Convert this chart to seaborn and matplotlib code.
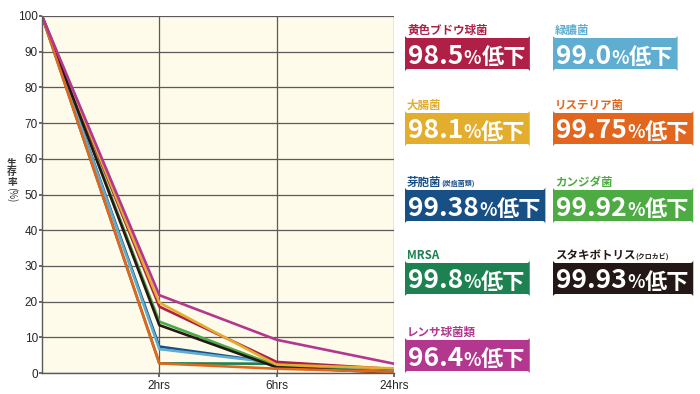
import matplotlib
matplotlib.use("Agg")
import matplotlib.pyplot as plt
from matplotlib.patches import FancyBboxPatch
from matplotlib.transforms import Affine2D
import seaborn as sns
import pandas as pd

# time points (first one is the start, no label)
times = ["", "2hrs", "6hrs", "24hrs"]

# species, in legend order (left column / right column, row by row)
names = ["黄色ブドウ球菌", "緑膿菌", "大腸菌", "リステリア菌", "芽胞菌",
         "カンジダ菌", "MRSA", "スタキボトリス", "レンサ球菌類"]
suffixes = ["", "", "", "", "(炭疽菌類)", "", "", "(クロカビ)", ""]
reductions = ["98.5", "99.0", "98.1", "99.75", "99.38", "99.92", "99.8", "99.93", "96.4"]
colors = ["#B01F45", "#5FADD0", "#E3AE2E", "#E2661D", "#184F84",
          "#4EAA43", "#1D8151", "#231815", "#B3378F"]

# survival rate (%) at each time point
staph = [100, 18.6, 3.1, 1.1]
pseudo = [100, 6.7, 2.8, 0.9]
ecoli = [100, 19.7, 2.3, 1.3]
listeria = [100, 2.7, 1.2, 0.3]
bacillus = [100, 7.4, 2.8, 0.6]
candida = [100, 14.4, 2.0, 0.1]
mrsa = [100, 2.7, 2.6, 0.2]
stachy = [100, 13.4, 1.6, 0.1]
strep = [100, 21.8, 9.3, 2.6]
series = [staph, pseudo, ecoli, listeria, bacillus, candida, mrsa, stachy, strep]

# drawing order of the lines (last one on top)
draw_order = ["MRSA", "芽胞菌", "緑膿菌", "カンジダ菌", "黄色ブドウ球菌",
              "大腸菌", "スタキボトリス", "リステリア菌", "レンサ球菌類"]

sns.set_theme(style="white")
plt.rcParams["font.family"] = ["Liberation Sans", "Noto Sans CJK JP", "DejaVu Sans"]
CJK = ["Noto Sans CJK JP", "DejaVu Sans"]

rows = []
for name, vals in zip(names, series):
    for i, v in enumerate(vals):
        rows.append({"name": name, "pos": i, "value": v})
df = pd.DataFrame(rows)

fig = plt.figure(figsize=(7, 3.94), dpi=100)
W, H = 700, 394
ax = fig.add_axes([42 / W, 1 - 373 / H, (394 - 42) / W, (373 - 16) / H])
ax.set_facecolor("#FEFBEA")

sns.lineplot(data=df, x="pos", y="value", hue="name", palette=dict(zip(names, colors)),
             hue_order=draw_order, legend=False, linewidth=1.9, sort=False, ax=ax)

ax.set_xlim(0, len(times) - 1)
ax.set_ylim(0, 100)
ax.set_xticks(range(1, len(times)))
ax.set_xticklabels(times[1:], fontsize=8.5)
ax.set_yticks(range(0, 101, 10))
ax.set_yticklabels([str(v) for v in range(0, 101, 10)], fontsize=8.5)
ax.grid(True, color="#5a5a5a", linewidth=0.9)
ax.set_axisbelow(True)
ax.tick_params(axis="x", length=3, color="#5a5a5a", pad=2, direction="out", bottom=True)
ax.tick_params(axis="y", length=2, color="#5a5a5a", pad=1, left=True)
for side in ["top", "right"]:
    ax.spines[side].set_visible(False)
for side in ["left", "bottom"]:
    ax.spines[side].set_color("#5a5a5a")
    ax.spines[side].set_linewidth(1.0)
ax.set_xlabel("")
ax.set_ylabel("")

# pixel coordinates, origin top-left
px = Affine2D().scale(1, -1).translate(0, H)
r = fig.canvas.get_renderer()


def put(x, y, s, size, color, z=5):
    # baseline-aligned text, returns its right edge in pixels
    t = fig.text(x, y, s, transform=px, family=CJK, fontsize=size, fontweight="bold",
                 color=color, ha="left", va="baseline", zorder=z)
    return t.get_window_extent(r).x1


# vertical y label, one character per line
ylab = "生存率"
for k, ch in enumerate(ylab):
    fig.text(12, 158 + k * 9.5, ch, transform=px, family=CJK, fontsize=7, fontweight="bold",
             ha="center", va="top", color="#333333")
fig.text(12, 187, "(%)", transform=px, family=CJK, fontsize=7, rotation=-90,
         ha="center", va="top", color="#333333")

col_x = [405, 553]
row_top = [38, 113, 190, 263, 340]
box_h = 31

for i, (name, suf, red, c) in enumerate(zip(names, suffixes, reductions, colors)):
    x0 = col_x[i % 2]
    top = row_top[i // 2]
    xe = put(x0 + 2, top - 4, name, 8.3, c)
    if suf:
        put(xe, top - 4, suf, 5, c)
    base = top + box_h - 5.5
    xe = put(x0 + 3, base, red, 19, "white")
    xe = put(xe + 0.5, base, "%", 13, "white")
    xe = put(xe, base + 0.5, "低下", 16, "white")
    box = FancyBboxPatch((x0, top + box_h), xe + 4 - x0, -box_h, transform=px,
                         boxstyle="round,pad=0,rounding_size=3", fc=c, ec="none", zorder=-1)
    fig.add_artist(box)

fig.savefig("out.png", dpi=100)
